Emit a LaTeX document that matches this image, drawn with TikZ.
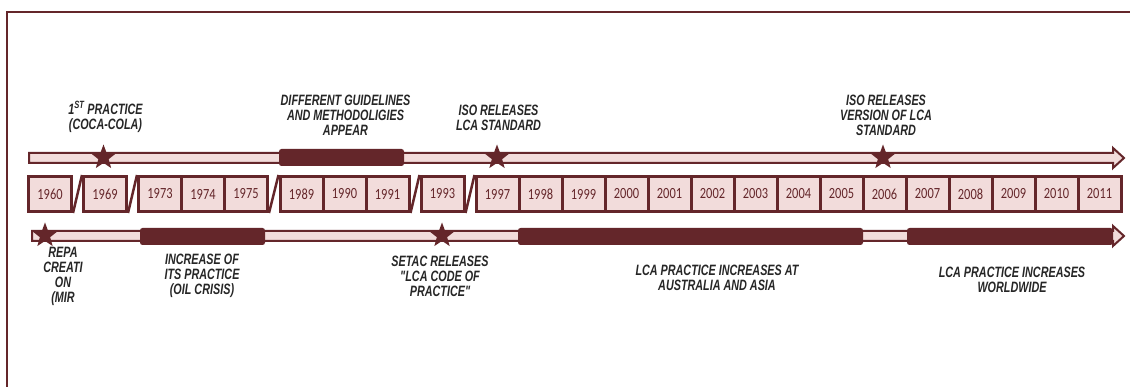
\documentclass[tikz,border=0pt]{standalone}
\usepackage{fontspec}
\usetikzlibrary{shapes.geometric}
\newfontfamily\labfont[FakeStretch=0.72]{Liberation Sans}
\newfontfamily\yearfont[FakeStretch=0.8]{Carlito}
\definecolor{mrn}{HTML}{64262A}
\definecolor{pnk}{HTML}{F2DCDB}
\definecolor{ink}{HTML}{262626}
\begin{document}
\begin{tikzpicture}[x=1pt,y=-1pt,
  yr/.style={draw=mrn, line width=3pt, fill=pnk, minimum width=43pt, minimum height=35pt, inner sep=0pt, font=\yearfont\fontsize{15.5}{16}\selectfont, text=mrn},
  lbl/.style={align=center, font=\labfont\bfseries\itshape\fontsize{15}{15}\selectfont, text=ink, inner sep=0pt},
  bar/.style={fill=mrn, rounded corners=2.5pt, inner sep=0pt, minimum height=17pt},
  st/.style={star, star points=5, star point ratio=2.4, fill=mrn, minimum size=26pt, inner sep=0pt},
  sl/.style={draw=mrn, line width=2.5pt},
  tl/.style={draw=mrn, fill=pnk, line width=2pt, line join=miter}]
\useasboundingbox (0,0) rectangle (1130,387);
\fill[white] (0,0) rectangle (1130,387);
% frame
\draw[mrn, line width=2pt] (7,387) -- (7,12) -- (1130,12);
% timeline arrows
\path[tl] (29,153) -- (1113,153) -- (1113,148) -- (1124,158) -- (1113,168) -- (1113,163) -- (29,163) -- cycle;
\path[tl] (32,231) -- (1113,231) -- (1113,226) -- (1124,236) -- (1113,246) -- (1113,241) -- (32,241) -- cycle;
% year boxes
\node[yr] (y1960) at (50,194) {1960};
\node[yr] (y1969) at (105,194) {1969};
\foreach \yy [count=\i from 0] in {1973,1974,1975}
  \node[yr] (y\yy) at (160+43*\i,194) {\yy};
\foreach \yy [count=\i from 0] in {1989,1990,1991}
  \node[yr] (y\yy) at (301.5+43*\i,194) {\yy};
\node[yr] (y1993) at (442.5,194) {1993};
\foreach \yy [count=\i from 0] in {1997,1998,1999,2000,2001,2002,2003,2004,2005,2006,2007,2008,2009,2010,2011}
  \node[yr] (y\yy) at (497.5+43*\i,194) {\yy};
% slashes
\draw[sl] (y1960.south east) -- (y1969.north west);
\draw[sl] (y1969.south east) -- (y1973.north west);
\draw[sl] (y1975.south east) -- (y1989.north west);
\draw[sl] (y1991.south east) -- (y1993.north west);
\draw[sl] (y1993.south east) -- (y1997.north west);
% bars
\node[bar, minimum width=125pt] (b1) at (341.5,157.5) {};
\node[bar, minimum width=125pt] (b2) at (202.5,236.5) {};
\node[bar, minimum width=345pt] (b3) at (690.5,236.5) {};
\node[bar, minimum width=206pt] (b4) at (1010,236.5) {};
% stars
\node[st] (s1) at (103.5,157.5) {};
\node[st] (s2) at (497,157.5) {};
\node[st] (s3) at (883,157.5) {};
\node[st] (s4) at (45,235.5) {};
\node[st] (s5) at (442,235.5) {};
% labels top
\node[lbl] (l1) at (105.5,117) {1\textsuperscript{ST} PRACTICE\\(COCA-COLA)};
\node[lbl] (l2) at (345.5,115) {DIFFERENT GUIDELINES\\AND METHODOLIGIES\\APPEAR};
\node[lbl] (l3) at (498.5,118) {ISO RELEASES\\LCA STANDARD};
\node[lbl] (l4) at (886,115.5) {ISO RELEASES\\VERSION OF LCA\\STANDARD};
% labels bottom
\node[lbl] (l5) at (63,276) {REPA\\CREATI\\ON\\(MIR};
\node[lbl] (l6) at (202,276) {INCREASE OF\\ITS PRACTICE\\(OIL CRISIS)};
\node[lbl] (l7) at (440,276.5) {SETAC RELEASES\\"LCA CODE OF\\PRACTICE"};
\node[lbl] (l8) at (717,278) {LCA PRACTICE INCREASES AT\\AUSTRALIA AND ASIA};
\node[lbl] (l9) at (1012,280) {LCA PRACTICE INCREASES\\WORLDWIDE};
\end{tikzpicture}
\end{document}
